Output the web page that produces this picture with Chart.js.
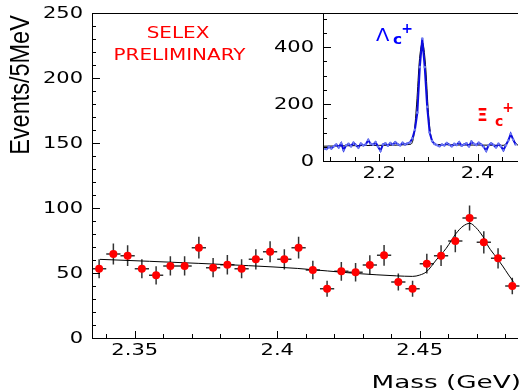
<!DOCTYPE html>
<html>
<head>
<meta charset="utf-8">
<script src="https://cdn.jsdelivr.net/npm/chart.js@4.4.1/dist/chart.umd.min.js"></script>
<style>
  html, body { margin: 0; padding: 0; background: #fff; }
  #wrap  { position: relative; width: 522px; height: 392px; overflow: hidden; }
  #main  { position: absolute; left: 0; top: 0; }
  #inset { position: absolute; left: 250px; top: 0; }
</style>
</head>
<body>
<div id="wrap">
  <canvas id="main" width="522" height="392"></canvas>
  <canvas id="inset" width="272" height="190"></canvas>
</div>
<script>
// ---- main plot: 5 MeV bins ----
const massBins = [2.3375, 2.3425, 2.3475, 2.3525, 2.3575, 2.3625, 2.3675, 2.3725, 2.3775, 2.3825,
                  2.3875, 2.3925, 2.3975, 2.4025, 2.4075, 2.4125, 2.4175, 2.4225, 2.4275, 2.4325,
                  2.4375, 2.4425, 2.4475, 2.4525, 2.4575, 2.4625, 2.4675, 2.4725, 2.4775, 2.4825];
const events   = [53.3, 64.6, 63.3, 53.3, 48.2, 55.4, 55.4, 69.5, 54.1, 56.4,
                  53.3, 60.5, 66.4, 60.5, 69.5, 52.3, 37.9, 51.3, 50.5, 56.2,
                  63.6, 43.1, 37.9, 57.2, 63.3, 74.6, 92.3, 73.6, 61.3, 40.0];
const errors   = [7.3, 8.0, 8.0, 7.3, 7.0, 7.4, 7.4, 8.3, 7.4, 7.5,
                  7.3, 7.8, 8.1, 7.8, 8.3, 7.2, 6.2, 7.2, 7.1, 7.5,
                  8.0, 6.6, 6.2, 7.6, 8.0, 8.6, 9.6, 8.6, 7.8, 6.3];
// fit curve
const fitMass   = [2.3378, 2.3725, 2.4072, 2.4281, 2.4419, 2.4475, 2.4500, 2.4524, 2.4558, 2.4593,
                   2.4628, 2.4652, 2.4676, 2.4697, 2.4722, 2.4742, 2.4767, 2.4791, 2.4812, 2.4829];
const fitEvents = [60.5, 57.4, 53.5, 49.6, 47.8, 47.4, 48.4, 51.0, 60.0, 69.0,
                   80.5, 86.0, 88.2, 85.0, 78.0, 70.0, 62.6, 55.4, 48.5, 43.3];
const xTickVals   = [2.35, 2.40, 2.45];
const xTickLabels = ['2.35', '2.4', '2.45'];
const yTickVals   = [0, 50, 100, 150, 200, 250];

// ---- inset: full spectrum ----
const incMass = [2.0875, 2.0925, 2.0975, 2.1025, 2.1075, 2.1125, 2.1175, 2.1225, 2.1275, 2.1325,
                 2.1375, 2.1425, 2.1475, 2.1525, 2.1575, 2.1625, 2.1675, 2.1725, 2.1775, 2.1825,
                 2.1875, 2.1925, 2.1975, 2.2025, 2.2075, 2.2125, 2.2175, 2.2225, 2.2275, 2.2325,
                 2.2375, 2.2425, 2.2475, 2.2525, 2.2575, 2.2625, 2.2675, 2.2725, 2.2775, 2.2825,
                 2.2875, 2.2925, 2.2975, 2.3025, 2.3075, 2.3125, 2.3175, 2.3225, 2.3275, 2.3325,
                 2.3375, 2.3425, 2.3475, 2.3525, 2.3575, 2.3625, 2.3675, 2.3725, 2.3775, 2.3825,
                 2.3875, 2.3925, 2.3975, 2.4025, 2.4075, 2.4125, 2.4175, 2.4225, 2.4275, 2.4325,
                 2.4375, 2.4425, 2.4475, 2.4525, 2.4575, 2.4625, 2.4675, 2.4725, 2.4775];
const incEvents = [45, 42, 50, 44, 52, 58, 48, 62, 38, 55,
                   60, 52, 64, 56, 47, 61, 55, 58, 74, 60,
                   57, 66, 50, 36, 58, 62, 54, 63, 57, 66,
                   59, 55, 64, 58, 62, 65, 80, 110, 170, 330,
                   430, 330, 190, 100, 70, 60, 56, 52, 58, 55,
                   63, 57, 52, 60, 56, 66, 54, 58, 62, 52,
                   68, 60, 56, 64, 58, 50, 36, 55, 62, 56,
                   48, 60, 52, 38, 55, 72, 95, 75, 58];
const incFitMass   = [2.0875, 2.20, 2.262, 2.270, 2.276, 2.282, 2.288, 2.294, 2.300, 2.306, 2.316, 2.40, 2.452, 2.460, 2.468, 2.476, 2.4823];
const incFitEvents = [52, 55, 58, 85, 200, 360, 415, 340, 170, 80, 58, 56, 55, 64, 88, 66, 55];
const incXTickVals   = [2.2, 2.4];
const incXTickLabels = ['2.2', '2.4'];
const incYTickVals   = [0, 200, 400];

const FONT = 'DejaVu Sans';
const INSET_LEFT = 250;   // css left of the inset canvas

function wideText(ctx, str, x, y, size, o = {}) {
  ctx.save();
  ctx.translate(x, y);
  if (o.rot) ctx.rotate(o.rot);
  ctx.scale(o.sx || 1.4, 1);
  ctx.font = `${o.weight || 'normal'} ${size}px ${o.family || FONT}`;
  ctx.fillStyle = o.color || '#000';
  ctx.textAlign = o.align || 'center';
  ctx.textBaseline = o.baseline || 'middle';
  ctx.fillText(str, 0, 0);
  ctx.restore();
}

function range(a, b, step) {
  const out = [];
  for (let i = Math.round(a / step); i <= Math.round(b / step); i++) out.push(i * step);
  return out;
}

// frame, inward ticks and tick labels
function decorate(chart, c) {
  const { ctx, chartArea: a, scales: { x, y } } = chart;
  ctx.save();
  ctx.strokeStyle = '#000';
  ctx.lineWidth = 1;
  ctx.beginPath();
  ctx.moveTo(a.right, a.top + 0.5);
  ctx.lineTo(a.left + 0.5, a.top + 0.5);
  ctx.lineTo(a.left + 0.5, a.bottom + 0.5);
  ctx.lineTo(a.right, a.bottom + 0.5);
  c.yMinor.forEach(v => {
    const py = Math.round(y.getPixelForValue(v)) + 0.5;
    const major = c.yMajor.some(m => Math.abs(m - v) < 1e-6);
    ctx.moveTo(a.left, py); ctx.lineTo(a.left + (major ? 8 : 4), py);
  });
  c.xMinor.forEach(v => {
    const px = Math.round(x.getPixelForValue(v)) + 0.5;
    if (px < a.left || px > a.right) return;
    const major = c.xMajor.some(m => Math.abs(m - v) < 1e-6);
    ctx.moveTo(px, a.bottom); ctx.lineTo(px, a.bottom - (major ? 7 : 4));
  });
  ctx.stroke();
  ctx.restore();

  c.yMajor.forEach(v => wideText(ctx, String(v), a.left - 9, y.getPixelForValue(v) + 1, 15, { align: 'right' }));
  c.xMajor.forEach((v, i) => wideText(ctx, c.xLabels[i], x.getPixelForValue(v), a.bottom + 13, 15));
}

const mainPlugin = {
  id: 'mainDecor',
  beforeDatasetsDraw(chart) {
    const { ctx, scales: { x, y } } = chart;
    ctx.save();
    ctx.strokeStyle = '#333';
    ctx.lineWidth = 1.5;
    ctx.beginPath();
    massBins.forEach((m, i) => {
      const px = x.getPixelForValue(m), py = y.getPixelForValue(events[i]);
      ctx.moveTo(px, y.getPixelForValue(events[i] + errors[i]));
      ctx.lineTo(px, y.getPixelForValue(events[i] - errors[i]));
      ctx.moveTo(x.getPixelForValue(m - 0.0025), py);
      ctx.lineTo(x.getPixelForValue(m + 0.0025), py);
    });
    ctx.stroke();
    ctx.restore();
  },
  afterDraw(chart) {
    const ctx = chart.ctx;
    decorate(chart, {
      yMajor: yTickVals, yMinor: range(0, 250, 10),
      xMajor: xTickVals, xLabels: xTickLabels, xMinor: range(2.34, 2.48, 0.01),
    });
    wideText(ctx, 'Events/5MeV', 22, 85, 27, { rot: -Math.PI / 2, sx: 0.87, family: 'Liberation Sans' });
    wideText(ctx, 'Mass (GeV)', 521, 383, 18, { align: 'right', sx: 1.46 });
    wideText(ctx, 'SELEX', 178, 34, 15, { color: '#ff0000', sx: 1.33 });
    wideText(ctx, 'PRELIMINARY', 179.5, 56, 15, { color: '#ff0000', sx: 1.33 });
  },
};

new Chart(document.getElementById('main'), {
  type: 'scatter',
  data: {
    datasets: [
      {
        data: massBins.map((m, i) => ({ x: m, y: events[i] })),
        pointRadius: 4, pointBackgroundColor: '#ff0000', pointBorderColor: '#ff0000', pointBorderWidth: 0,
      },
      {
        data: fitMass.map((m, i) => ({ x: m, y: fitEvents[i] })),
        showLine: true, borderColor: '#000', borderWidth: 1, pointRadius: 0,
        cubicInterpolationMode: 'monotone',
      },
    ],
  },
  options: {
    responsive: false, animation: false, devicePixelRatio: 1,
    layout: { padding: { top: 13, right: 0, left: 0, bottom: 0 } },
    plugins: { legend: { display: false }, tooltip: { enabled: false } },
    scales: {
      x: { type: 'linear', min: 2.335, max: 2.4845, grid: { display: false }, border: { display: false },
           ticks: { display: false }, afterFit: s => { s.height = 54; } },
      y: { min: 0, max: 250, grid: { display: false }, border: { display: false },
           ticks: { display: false }, afterFit: s => { s.width = 92; } },
    },
  },
  plugins: [mainPlugin],
});

const insetPlugin = {
  id: 'insetDecor',
  afterDraw(chart) {
    const ctx = chart.ctx;
    const L = INSET_LEFT;
    decorate(chart, {
      yMajor: incYTickVals, yMinor: range(0, 500, 50),
      xMajor: incXTickVals, xLabels: incXTickLabels, xMinor: range(2.1, 2.45, 0.05),
    });
    // Lambda_c+
    wideText(ctx, 'Λ', 376 - L, 41, 17, { align: 'left', baseline: 'alphabetic', sx: 1.15, color: '#0000ff' });
    wideText(ctx, 'c', 393 - L, 44, 14, { align: 'left', baseline: 'alphabetic', sx: 1.1, weight: 'bold', color: '#0000ff' });
    wideText(ctx, '+', 407 - L, 29, 14, { sx: 1.0, weight: 'bold', color: '#0000ff' });
    // Xi_c+
    wideText(ctx, 'Ξ', 477 - L, 121, 17, { align: 'left', baseline: 'alphabetic', sx: 1.0, weight: 'bold', color: '#ff0000' });
    wideText(ctx, 'c', 495 - L, 126, 14, { align: 'left', baseline: 'alphabetic', sx: 1.0, weight: 'bold', color: '#ff0000' });
    wideText(ctx, '+', 508 - L, 108, 14, { sx: 1.0, weight: 'bold', color: '#ff0000' });
  },
};

new Chart(document.getElementById('inset'), {
  type: 'scatter',
  data: {
    datasets: [
      {
        data: incMass.map((m, i) => ({ x: m, y: incEvents[i] })),
        showLine: true, borderColor: '#0c0ce0', borderWidth: 2,
        pointRadius: 1.3, pointBackgroundColor: '#6f7cf0', pointBorderWidth: 0,
      },
      {
        data: incFitMass.map((m, i) => ({ x: m, y: incFitEvents[i] })),
        showLine: true, borderColor: '#000', borderWidth: 1, pointRadius: 0,
        cubicInterpolationMode: 'monotone',
      },
    ],
  },
  options: {
    responsive: false, animation: false, devicePixelRatio: 1,
    layout: { padding: { top: 13, right: 0, left: 0, bottom: 0 } },
    plugins: { legend: { display: false }, tooltip: { enabled: false } },
    scales: {
      x: { type: 'linear', min: 2.0855, max: 2.4823, grid: { display: false }, border: { display: false },
           ticks: { display: false }, afterFit: s => { s.height = 29; } },
      y: { min: 0, max: 520, grid: { display: false }, border: { display: false },
           ticks: { display: false }, afterFit: s => { s.width = 323 - INSET_LEFT; } },
    },
  },
  plugins: [insetPlugin],
});
</script>
</body>
</html>
